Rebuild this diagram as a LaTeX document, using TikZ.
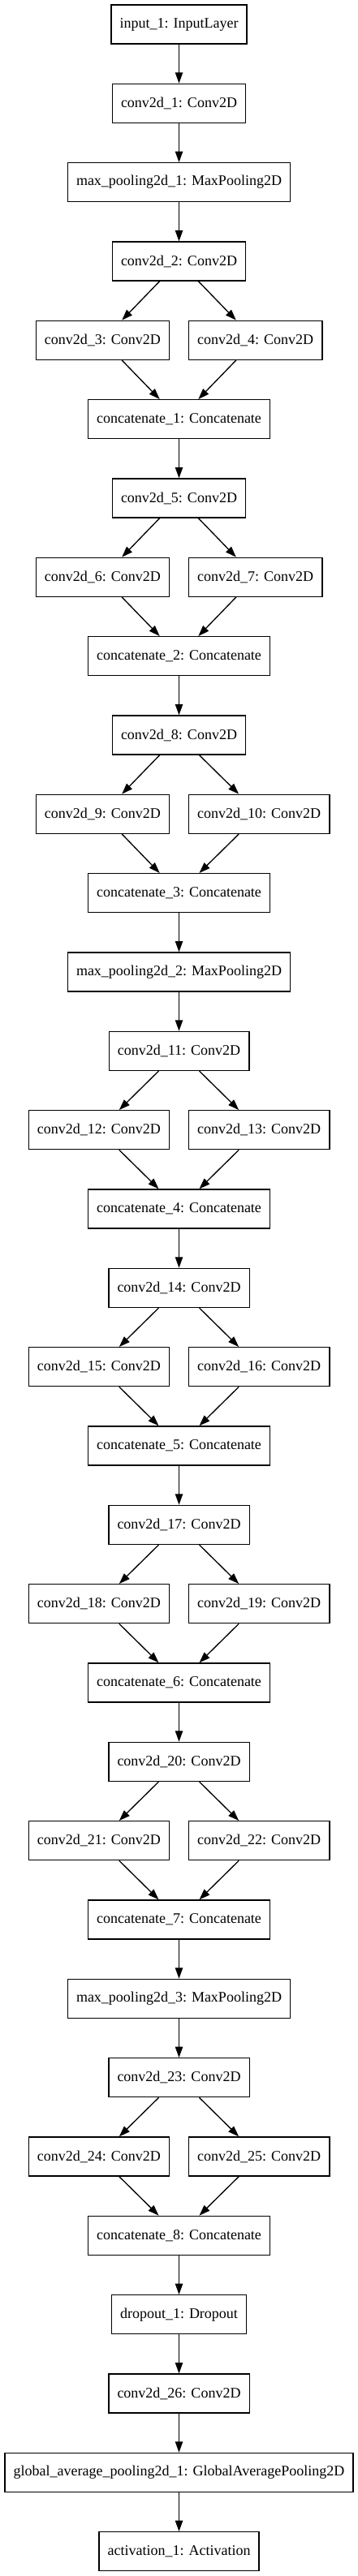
\documentclass[tikz,border=0pt]{standalone}
\usepackage{fontspec}
\setmainfont{Liberation Serif}
\usepackage{tikz}
\usetikzlibrary{arrows.meta,positioning}

\begin{document}
\begin{tikzpicture}[
  node distance=36pt,
  layer/.style={draw,line width=1pt,minimum height=36pt,inner xsep=8pt,font=\fontsize{13.5}{16}\selectfont},
  link/.style={draw,line width=1pt,-{Triangle[length=10pt,width=7pt]}}]
\useasboundingbox (0,0) rectangle (330.75pt,-2381.25pt);
\node[layer] (inlayer) at (165.375pt,-22.5pt) {input\_1: InputLayer};
\node[layer,below=of inlayer] (conv1) {conv2d\_1: Conv2D};
\node[layer,below=of conv1] (pool1) {max\_pooling2d\_1: MaxPooling2D};
\draw[link] (inlayer) -- (conv1);
\draw[link] (conv1) -- (pool1);
% conv -> two convs -> concatenate
\foreach \prev/\n/\k in {pool1/2/1,concat1/5/2,concat2/8/3,pool2/11/4,concat4/14/5,concat5/17/6,concat6/20/7,pool3/23/8} {
  \pgfmathtruncatemacro\na{\n+1}
  \pgfmathtruncatemacro\nb{\n+2}
  \ifnum\n=11 \node[layer,below=of concat3] (pool2) {max\_pooling2d\_2: MaxPooling2D};
    \draw[link] (concat3) -- (pool2); \fi
  \ifnum\n=23 \node[layer,below=of concat7] (pool3) {max\_pooling2d\_3: MaxPooling2D};
    \draw[link] (concat7) -- (pool3); \fi
  \node[layer,below=of \prev] (conv\n) {conv2d\_\n: Conv2D};
  \node[layer,below left=36pt and 8.5pt of conv\n.south] (conv\na) {conv2d\_\na: Conv2D};
  \node[layer,below right=36pt and 8.5pt of conv\n.south] (conv\nb) {conv2d\_\nb: Conv2D};
  \node[layer,below=109pt of conv\n] (concat\k) {concatenate\_\k: Concatenate};
  \draw[link] (\prev) -- (conv\n);
  \draw[link] (conv\n) -- (conv\na);
  \draw[link] (conv\n) -- (conv\nb);
  \draw[link] (conv\na) -- (concat\k);
  \draw[link] (conv\nb) -- (concat\k);
}
\node[layer,below=of concat8] (drop1) {dropout\_1: Dropout};
\node[layer,below=of drop1] (conv26) {conv2d\_26: Conv2D};
\node[layer,below=of conv26] (gap1) {global\_average\_pooling2d\_1: GlobalAveragePooling2D};
\node[layer,below=of gap1] (act1) {activation\_1: Activation};
\draw[link] (concat8) -- (drop1);
\draw[link] (drop1) -- (conv26);
\draw[link] (conv26) -- (gap1);
\draw[link] (gap1) -- (act1);
\end{tikzpicture}
\end{document}
